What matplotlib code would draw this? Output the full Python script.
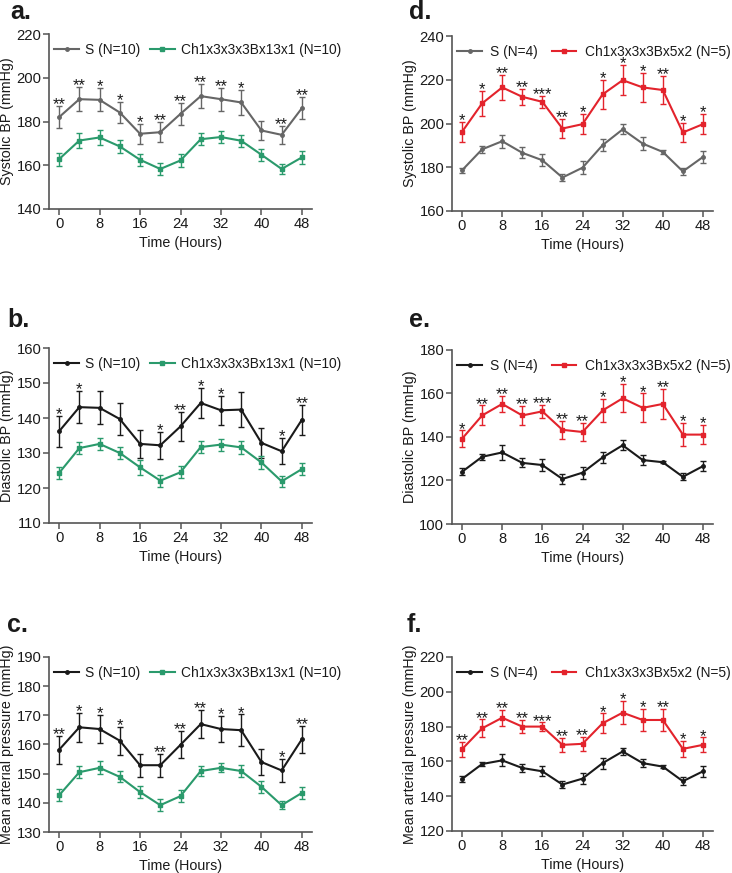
import matplotlib
matplotlib.use("Agg")
import matplotlib.pyplot as plt
from matplotlib.lines import Line2D

plt.rcParams['font.family'] = ['Liberation Sans', 'DejaVu Sans']

hours = [0, 4, 8, 12, 16, 20, 24, 28, 32, 36, 40, 44, 48]
xticks = [0, 8, 16, 24, 32, 40, 48]

# Panel a: systolic, S vs Ch1x3x3x3Bx13x1
a_s = [182.0, 190.2, 189.9, 184.1, 174.4, 175.1, 183.5, 191.6, 190.2, 188.7, 175.9, 173.9, 186.1]
a_s_err = [5.0, 5.5, 5.3, 5.0, 4.5, 4.6, 5.0, 5.5, 5.2, 5.8, 4.4, 4.2, 5.0]
a_c = [162.8, 171.3, 172.7, 168.6, 162.5, 158.3, 162.2, 171.9, 172.9, 171.2, 164.8, 158.3, 163.6]
a_c_err = [3.0, 3.4, 3.4, 3.0, 2.7, 2.9, 2.9, 2.7, 2.7, 2.7, 2.8, 2.2, 2.8]
a_stars = ["**", "**", "*", "*", "*", "**", "**", "**", "**", "*", "", "**", "**"]

# Panel b: diastolic
b_s = [136.2, 143.1, 142.9, 139.7, 132.6, 132.2, 137.6, 144.3, 142.2, 142.4, 132.9, 130.5, 139.5]
b_s_err = [4.4, 4.6, 4.7, 4.6, 3.9, 3.8, 4.1, 4.3, 4.2, 5.1, 4.3, 3.7, 4.3]
b_c = [124.3, 131.4, 132.6, 130.0, 125.9, 122.1, 124.5, 131.7, 132.4, 131.6, 127.3, 121.9, 125.4]
b_c_err = [1.8, 1.7, 1.7, 1.8, 2.1, 1.7, 1.7, 1.6, 1.7, 1.9, 1.9, 1.6, 1.6]
b_stars = ["*", "*", "", "", "", "*", "**", "*", "*", "", "", "*", "**"]

# Panel c: mean arterial pressure
c_s = [158.2, 165.9, 165.3, 161.3, 152.9, 152.9, 159.9, 167.0, 165.3, 164.9, 154.0, 151.1, 161.8]
c_s_err = [4.8, 4.9, 4.8, 4.8, 3.9, 3.9, 4.6, 4.9, 4.5, 5.4, 4.4, 4.0, 4.7]
c_c = [142.6, 150.5, 152.0, 148.9, 143.7, 139.2, 142.3, 150.9, 152.0, 150.9, 145.5, 139.2, 143.4]
c_c_err = [2.0, 2.1, 2.2, 1.9, 1.9, 2.0, 2.0, 1.7, 1.6, 2.0, 2.0, 1.4, 2.0]
c_stars = ["**", "*", "*", "*", "", "**", "**", "**", "*", "*", "", "*", "**"]

# Panel d: systolic, S vs Ch1x3x3x3Bx5x2
d_s = [178.6, 188.2, 191.9, 186.6, 183.2, 175.3, 179.8, 190.1, 197.3, 190.8, 187.0, 178.1, 184.7]
d_s_err = [1.2, 1.6, 3.0, 2.5, 2.7, 1.6, 3.0, 2.7, 2.3, 2.9, 1.1, 1.5, 2.9]
d_c = [196.2, 209.2, 216.5, 212.2, 209.9, 197.7, 199.7, 213.3, 219.8, 216.5, 215.3, 195.9, 199.7]
d_c_err = [4.6, 5.6, 5.6, 3.8, 2.8, 4.3, 4.6, 6.6, 6.9, 6.5, 6.5, 4.5, 4.6]
d_stars = ["*", "*", "**", "**", "***", "**", "*", "*", "*", "*", "**", "*", "*"]

# Panel e: diastolic
e_s = [124.0, 130.9, 132.9, 128.1, 127.1, 120.7, 123.6, 130.6, 136.2, 129.4, 128.4, 121.7, 126.6]
e_s_err = [1.7, 1.5, 3.3, 2.1, 2.6, 2.1, 2.8, 2.7, 2.3, 2.1, 0.5, 1.7, 2.4]
e_c = [139.2, 149.9, 155.2, 149.9, 151.8, 143.3, 142.3, 152.2, 157.8, 153.4, 155.2, 141.1, 141.1]
e_c_err = [3.8, 4.6, 3.8, 4.3, 3.0, 4.0, 4.1, 5.5, 6.4, 6.6, 6.7, 5.3, 4.3]
e_stars = ["*", "**", "**", "**", "***", "**", "**", "*", "*", "*", "**", "*", "*"]

# Panel f: mean arterial pressure
f_s = [149.9, 158.5, 160.6, 156.2, 154.3, 146.7, 150.1, 159.0, 165.7, 159.0, 157.0, 148.6, 154.3]
f_s_err = [1.7, 1.4, 3.5, 2.4, 2.9, 2.1, 3.1, 3.1, 2.2, 2.5, 0.8, 2.3, 3.2]
f_c = [167.0, 179.0, 185.1, 180.0, 180.0, 169.5, 170.1, 181.9, 188.0, 183.8, 183.8, 167.2, 169.5]
f_c_err = [4.3, 5.1, 4.6, 3.8, 2.4, 4.0, 4.1, 5.7, 6.5, 6.2, 6.2, 4.8, 4.3]
f_stars = ["**", "**", "**", "**", "***", "**", "**", "*", "*", "*", "**", "*", "*"]

W, H = 732, 873
fig = plt.figure(figsize=(W / 100, H / 100), dpi=100)

GRAY = "#666666"
BLACK = "#1a1a1a"
GREEN = "#2a9a6c"
RED = "#e3232c"
SPINE = "#555555"


def make_axes(l, r, t, b):
    return fig.add_axes([l / W, 1 - b / H, (r - l) / W, (b - t) / H])


def panel(box, letter, letter_xy, s, s_err, c, c_err, stars, s_color, c_color,
          s_label, c_label, ylabel, ylim, yticks, htp, colsp):
    ax = make_axes(*box)
    ax.errorbar(hours, s, yerr=s_err, color=s_color, marker='o', markersize=2.5,
                lw=1.5, elinewidth=1.0, capsize=2.2, capthick=1.0, zorder=3)
    ax.errorbar(hours, c, yerr=c_err, color=c_color, marker='s', markersize=3.2,
                lw=1.5, elinewidth=1.0, capsize=2.2, capthick=1.0, zorder=3)
    top = [v + e for v, e in zip(s, s_err)]
    topc = [v + e for v, e in zip(c, c_err)]
    for h, ys, yc, st in zip(hours, top, topc, stars):
        if st:
            ax.annotate(st, (h, max(ys, yc)), xytext=(0, -4.5), textcoords='offset points',
                        ha='center', va='bottom', fontsize=12, color=BLACK, zorder=4)
    ax.set_xlim(-2, 50)
    ax.set_ylim(*ylim)
    ax.set_xticks(xticks)
    ax.set_yticks(yticks)
    for sp in ['top', 'right']:
        ax.spines[sp].set_visible(False)
    for sp in ['left', 'bottom']:
        ax.spines[sp].set_color(SPINE)
        ax.spines[sp].set_linewidth(1.2)
    ax.tick_params(axis='both', direction='out', length=4, width=1.1, color=SPINE,
                   labelsize=10.6, pad=1.5, labelcolor=BLACK)
    ax.set_xlabel("Time (Hours)", fontsize=10.3, color=BLACK, labelpad=4)
    ax.set_ylabel(ylabel, fontsize=10.3, color=BLACK, labelpad=2)
    handles = [Line2D([], [], color=s_color, marker='o', markersize=2.5, lw=1.5),
               Line2D([], [], color=c_color, marker='s', markersize=3.2, lw=1.5)]
    leg = ax.legend(handles, [s_label, c_label], loc='center left',
                    bbox_to_anchor=(0.02, 0.91), ncol=2, frameon=False,
                    fontsize=9.9, handlelength=1.8, handletextpad=htp, columnspacing=colsp,
                    borderaxespad=0.0, borderpad=0.0)
    for t in leg.get_texts():
        t.set_color(BLACK)
    fig.text(letter_xy[0] / W, 1 - letter_xy[1] / H, letter, fontsize=18,
             fontweight='bold', ha='left', va='center', color=BLACK)
    return ax


panel((49, 312, 34, 209), "a.", (10, 12), a_s, a_s_err, a_c, a_c_err, a_stars, GRAY, GREEN,
      "S (N=10)", "Ch1x3x3x3Bx13x1 (N=10)", "Systolic BP (mmHg)", (140, 220),
      [140, 160, 180, 200, 220], 0.45, 0.7)
panel((49, 312, 348, 523), "b.", (7, 320), b_s, b_s_err, b_c, b_c_err, b_stars, BLACK, GREEN,
      "S (N=10)", "Ch1x3x3x3Bx13x1 (N=10)", "Diastolic BP (mmHg)", (110, 160),
      [110, 120, 130, 140, 150, 160], 0.45, 0.7)
panel((49, 312, 657, 832), "c.", (7, 625), c_s, c_s_err, c_c, c_c_err, c_stars, BLACK, GREEN,
      "S (N=10)", "Ch1x3x3x3Bx13x1 (N=10)", "Mean arterial pressure (mmHg)", (130, 190),
      [130, 140, 150, 160, 170, 180, 190], 0.45, 0.7)
panel((452, 713, 36, 211), "d.", (409, 12), d_s, d_s_err, d_c, d_c_err, d_stars, GRAY, RED,
      "S (N=4)", "Ch1x3x3x3Bx5x2 (N=5)", "Systolic BP (mmHg)", (160, 240),
      [160, 180, 200, 220, 240], 0.6, 1.0)
panel((452, 713, 350, 524), "e.", (409, 320), e_s, e_s_err, e_c, e_c_err, e_stars, BLACK, RED,
      "S (N=4)", "Ch1x3x3x3Bx5x2 (N=5)", "Diastolic BP (mmHg)", (100, 180),
      [100, 120, 140, 160, 180], 0.6, 1.0)
panel((452, 713, 657, 831), "f.", (407, 625), f_s, f_s_err, f_c, f_c_err, f_stars, BLACK, RED,
      "S (N=4)", "Ch1x3x3x3Bx5x2 (N=5)", "Mean arterial pressure (mmHg)", (120, 220),
      [120, 140, 160, 180, 200, 220], 0.6, 1.0)

fig.savefig("out.png", dpi=100)
